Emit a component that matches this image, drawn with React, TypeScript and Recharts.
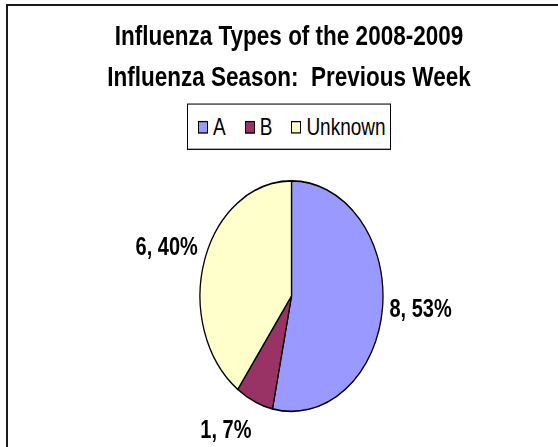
import { PieChart, Pie, Cell, Legend } from "recharts";

// 2008-2009 인플루엔자 유형 (지난주)
const TYPES = ["A", "B", "Unknown"];
const COUNTS = [8, 1, 6];
const COLORS = ["#9999FF", "#993366", "#FFFFCC"];
const TITLE_LINES = [
  "Influenza Types of the 2008-2009",
  "Influenza Season:  Previous Week",
];

// the original chart is stretched vertically, so draw flat and scale Y
const STRETCH = 1.26;
const W = 558;
const H = 354;
const FONT =
  '"Liberation Sans Narrow", "Arial Narrow", "Liberation Sans", Arial, sans-serif';
const RADIAN = Math.PI / 180;

const chartData = TYPES.map((name, i) => ({ name, value: COUNTS[i] }));

function renderLabel(props: any) {
  const { cx, cy, midAngle, outerRadius, value, percent } = props;
  const cos = Math.cos(-midAngle * RADIAN);
  const sin = Math.sin(-midAngle * RADIAN);
  const r = outerRadius + 7;
  const x = cx + r * cos;
  const y = cy + r * sin + sin * 20 - 3;
  return (
    <text
      x={x}
      y={y}
      textAnchor={cos >= 0 ? "start" : "end"}
      dominantBaseline="central"
      fill="#000"
      fontFamily={FONT}
      fontWeight="bold"
      fontSize={20}
    >
      {`${value}, ${Math.round(percent * 100)}%`}
    </text>
  );
}

function LegendBox() {
  return (
    <div
      style={{
        display: "flex",
        alignItems: "center",
        height: 35,
        padding: "0 4px 0 10px",
        border: "1px solid #000",
        background: "#fff",
        fontFamily: FONT,
        fontSize: 19,
        color: "#000",
        whiteSpace: "nowrap",
      }}
    >
      {TYPES.map((t, i) => (
        <span
          key={t}
          style={{
            display: "flex",
            alignItems: "center",
            marginRight: i < TYPES.length - 1 ? 19 : 0,
          }}
        >
          <span
            style={{
              width: 8,
              height: 8,
              border: "1px solid #000",
              background: COLORS[i],
              marginRight: 5,
            }}
          />
          {t}
        </span>
      ))}
    </div>
  );
}

export default function App() {
  return (
    <>
      {/* outer frame: only top/left edges are visible */}
      <div
        style={{
          position: "absolute",
          left: 6,
          top: 4,
          width: 552,
          height: 443,
          boxSizing: "border-box",
          borderTop: "2px solid #1a1a1a",
          borderLeft: "2px solid #1a1a1a",
        }}
      />
      <div
        style={{
          position: "absolute",
          left: 0,
          top: 0,
          width: W,
          height: H,
          transform: `scaleY(${STRETCH})`,
          transformOrigin: "0 0",
        }}
      >
        <div
          style={{
            position: "absolute",
            left: 0,
            top: 12.6,
            width: W,
            paddingLeft: 20,
            boxSizing: "border-box",
            textAlign: "center",
            fontFamily: FONT,
            fontWeight: "bold",
            fontSize: 22.5,
            lineHeight: "32.5px",
            whiteSpace: "pre",
            zIndex: 1,
          }}
        >
          {TITLE_LINES.join("\n")}
        </div>
        <PieChart
          width={W}
          height={H}
          margin={{ top: 0, right: 0, bottom: 0, left: 0 }}
        >
          <Pie
            data={chartData}
            dataKey="value"
            nameKey="name"
            cx={291.5}
            cy={235}
            outerRadius={91.5}
            startAngle={90}
            endAngle={-270}
            stroke="#000"
            strokeWidth={1.3}
            label={renderLabel}
            labelLine={false}
            isAnimationActive={false}
          >
            {chartData.map((d, i) => (
              <Cell key={d.name} fill={COLORS[i]} />
            ))}
          </Pie>
          <Legend
            content={() => <LegendBox />}
            wrapperStyle={{ left: 187, top: 82, width: "auto", bottom: "auto" }}
          />
        </PieChart>
      </div>
    </>
  );
}
